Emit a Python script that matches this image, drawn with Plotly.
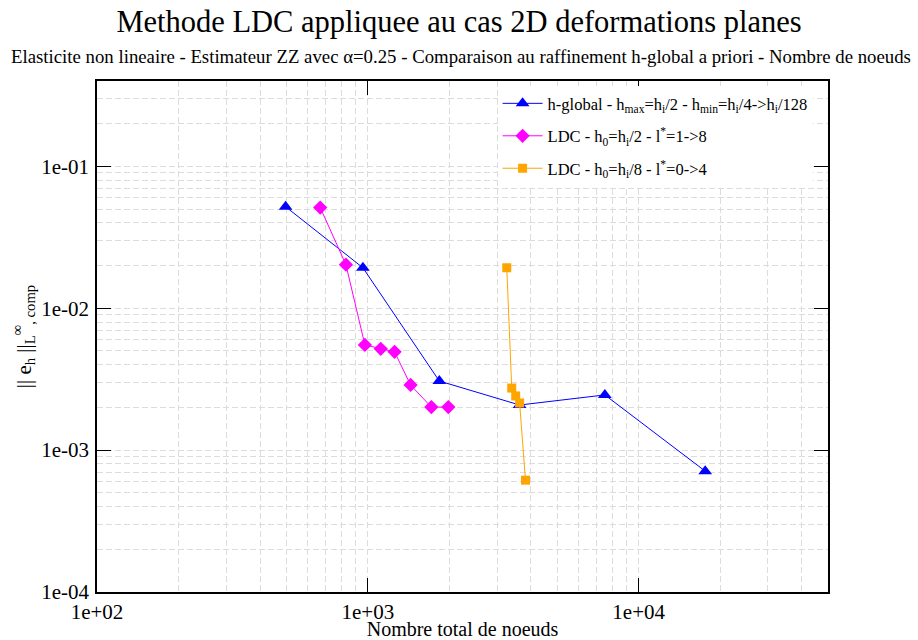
import plotly.graph_objects as go

# ---- data ----
hglobal_nodes = [497, 959, 1836, 3634, 7500, 17600]
hglobal_err = [0.052, 0.0193, 0.00307, 0.00208, 0.00245, 0.000711]

ldc2_nodes = [667, 830, 975, 1116, 1255, 1438, 1716, 1982]
ldc2_err = [0.0513, 0.0203, 0.00552, 0.00518, 0.00493, 0.00288, 0.00201, 0.00201]

ldc8_nodes = [3258, 3398, 3515, 3634, 3820]
ldc8_err = [0.0193, 0.00274, 0.00241, 0.00215, 0.000614]

x_tickvals = [1e2, 1e3, 1e4]
x_ticktext = ["1e+02", "1e+03", "1e+04"]
y_tickvals = [1e-4, 1e-3, 1e-2, 1e-1]
y_ticktext = ["1e-04", "1e-03", "1e-02", "1e-01"]

x_minor = [m * 10 ** e for e in (2, 3, 4) for m in range(2, 10) if m * 10 ** e <= 5e4]
y_minor = [m * 10.0 ** e for e in (-4, -3, -2, -1) for m in range(2, 10) if m * 10.0 ** e <= 0.4]

FONT = "Liberation Serif"
GRID = "#dcdcdc"

fig = go.Figure()
fig.add_trace(go.Scatter(
    x=hglobal_nodes, y=hglobal_err, mode="lines+markers", legendgroup="a",
    name="h-global - h<sub>max</sub>=h<sub>i</sub>/2 - h<sub>min</sub>=h<sub>i</sub>/4->h<sub>i</sub>/128",
    line=dict(color="#0000ff", width=1),
    marker=dict(symbol="triangle-up", size=12, color="#0000ff")))
fig.add_trace(go.Scatter(
    x=ldc2_nodes, y=ldc2_err, mode="lines+markers", legendgroup="b",
    name="LDC - h<sub>0</sub>=h<sub>i</sub>/2 - l<sup>*</sup>=1->8",
    line=dict(color="#ff00ff", width=1),
    marker=dict(symbol="diamond", size=11, color="#ff00ff")))
fig.add_trace(go.Scatter(
    x=ldc8_nodes, y=ldc8_err, mode="lines+markers", legendgroup="c",
    name="LDC - h<sub>0</sub>=h<sub>i</sub>/8 - l<sup>*</sup>=0->4",
    line=dict(color="#ffa500", width=1),
    marker=dict(symbol="square", size=9, color="#ffa500")))

axis_common = dict(
    type="log", showline=True, linecolor="black", linewidth=1.5, mirror="allticks",
    ticks="inside", ticklen=14, tickwidth=1.2, tickcolor="black",
    showgrid=True, gridcolor=GRID, griddash="6px,3px", gridwidth=1,
    tickfont=dict(family=FONT, size=21, color="black"),
    zeroline=False, automargin=False,
)

fig.update_xaxes(
    **axis_common, range=[2, 4.69897],
    tickvals=x_tickvals, ticktext=x_ticktext,
    minor=dict(tickvals=x_minor, showgrid=True, gridcolor=GRID, griddash="6px,3px", ticks=""),
    title=dict(text="Nombre total de noeuds", font=dict(family=FONT, size=20, color="black"), standoff=0),
)
fig.update_yaxes(
    **axis_common, range=[-4, -0.39794],
    tickvals=y_tickvals, ticktext=y_ticktext, ticklabelstandoff=2,
    minor=dict(tickvals=y_minor, showgrid=True, gridcolor=GRID, griddash="6px,3px", ticks=""),
    title=dict(text="|| e<sub>h</sub> ||<sub>L</sub><sup>∞</sup><sub>, comp</sub>",
               font=dict(family=FONT, size=21, color="black"), standoff=4),
)

fig.update_layout(
    width=918, height=640,
    margin=dict(l=97, r=90, t=81, b=48, autoexpand=False),
    paper_bgcolor="white", plot_bgcolor="white",
    font=dict(family=FONT, color="black"),
    title=dict(text="Methode LDC appliquee au cas 2D deformations planes",
               x=0.5, xref="container", y=1 - 21 / 640, yanchor="middle",
               font=dict(family=FONT, size=30.5, color="black")),
    showlegend=True,
    legend=dict(x=0.548, y=0.99, xanchor="left", yanchor="top",
                bgcolor="white", borderwidth=0,
                font=dict(family=FONT, size=16.5, color="black"),
                itemwidth=40, tracegroupgap=8),
    annotations=[dict(
        text="Elasticite non lineaire - Estimateur ZZ avec α=0.25 - Comparaison au raffinement h-global a priori - Nombre de noeuds",
        xref="paper", yref="paper", x=(461 - 97) / 731, y=1, yshift=25,
        xanchor="center", yanchor="middle", showarrow=False,
        font=dict(family=FONT, size=18.8, color="black"))],
)

fig.write_html("out.html", config={"displayModeBar": False},
               post_script="document.body.style.margin='0';document.body.style.padding='0';")
